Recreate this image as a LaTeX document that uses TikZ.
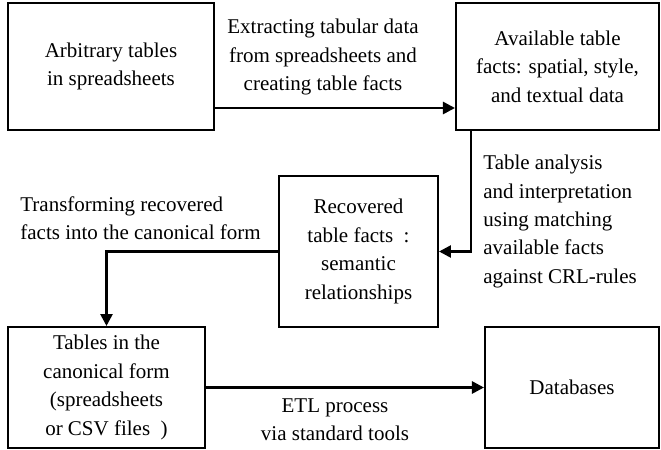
\documentclass[tikz,border=0pt]{standalone}
\usepackage{fontspec}
\setmainfont{Liberation Serif}
\usetikzlibrary{arrows.meta,positioning}

\tikzset{
  box/.style={draw, line width=1pt, inner sep=2pt, align=center, font=\fontsize{10.5}{14.2}\selectfont},
  lbl/.style={inner sep=0pt, font=\fontsize{10.5}{14.2}\selectfont},
  arr/.style={line width=1.3pt, -{Triangle[length=6pt,width=6pt]}}
}

\begin{document}
\begin{tikzpicture}[x=0.5pt,y=0.5pt,yscale=-1,xscale=1]
\useasboundingbox (0,0) rectangle (661,450);

% Boxes
\node[box, minimum width=103pt, minimum height=63.5pt] (arb) at (111,66.5) {Arbitrary tables\\in spreadsheets};
\node[box, minimum width=101.5pt, minimum height=63.5pt] (avail) at (557.5,66.5) {Available table\\facts: spatial, style,\\and textual data};
\node[box, minimum width=79.5pt, minimum height=75.5pt] (recov) at (358.5,251.5) {Recovered\\table facts~~:\\semantic\\relationships};
\node[box, minimum width=98.5pt, minimum height=60.5pt] (canon) at (106.5,387.5) {Tables in the\\canonical form\\(spreadsheets\\or CSV files~~)};
\node[box, minimum width=87pt, minimum height=60.5pt] (db) at (572,387.5) {Databases};

%Straight Lines
\draw[arr] ([yshift=-11.5pt]arb.south east) -- ([yshift=-11.5pt]avail.south west);
\draw[arr] ([xshift=8pt]avail.south west) |- (recov.east);
\draw[arr] (recov.west) -| (canon.north);
\draw[arr] (canon.east) -- (db.west);

% Text Node
\node[lbl, align=center] (extr) at (323,57) {Extracting tabular data\\from spreadsheets and\\creating table facts};
% Text Node
\node[lbl, align=left, anchor=west] (anal) at (483,221.5) {Table analysis\\and interpretation\\using matching\\available facts\\against CRL-rules};
% Text Node
\node[lbl, align=left, anchor=west] (trans) at (20,218.5) {Transforming recovered\\facts into the canonical form};
% Text Node
\node[lbl, align=center] (etl) at (335,419.5) {ETL process\\via standard tools};

\end{tikzpicture}
\end{document}
